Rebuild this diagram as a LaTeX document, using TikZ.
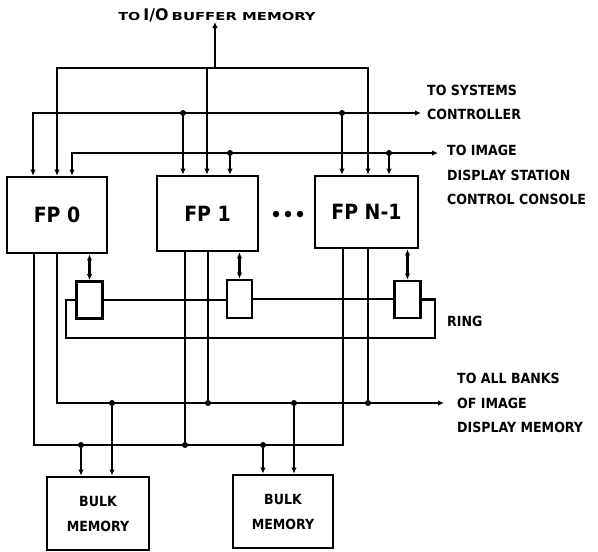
\documentclass[tikz,border=0pt]{standalone}
\usepackage{fontspec}
\setmainfont{DejaVu Sans Condensed}
\usetikzlibrary{arrows.meta}
\begin{document}
\begin{tikzpicture}[x=1pt,y=-1pt,
  wire/.style={line width=2.6pt, line join=miter},
  tipend/.style={-{Latex[length=6pt,width=5.5pt]}},
  tipboth/.style={{Latex[length=6pt,width=5.5pt]}-{Latex[length=6pt,width=5.5pt]}},
  fpbox/.style={draw, line width=2.8pt, inner sep=0pt, font=\bfseries\fontsize{21}{24}\selectfont},
  ringbox/.style={draw, line width=2.8pt, inner sep=0pt, minimum width=26pt, minimum height=37pt},
  bulkbox/.style={draw, line width=2.8pt, inner sep=0pt, align=center, font=\bfseries\fontsize{14}{25}\selectfont},
  lab/.style={anchor=west, align=left, inner sep=0pt, font=\bfseries\fontsize{14}{24.5}\selectfont},
  jdot/.style={circle, fill, inner sep=0pt, minimum size=6pt}
]
\useasboundingbox (0,0) rectangle (598,552);

% processor boxes
\node[fpbox, minimum width=100pt, minimum height=76pt] (fp0) at (57,215) {FP 0};
\node[fpbox, minimum width=101pt, minimum height=75pt] (fp1) at (207.5,213.5) {FP 1};
\node[fpbox, minimum width=103pt, minimum height=72pt] (fpN) at (366.5,212) {FP N-1};
\node[jdot, minimum size=6.5pt] (d1) at (276,214) {};
\node[jdot, minimum size=6.5pt] (d2) at (288,214) {};
\node[jdot, minimum size=6.5pt] (d3) at (300,214) {};

% ring boxes
\node[ringbox] (r1) at (89.5,300) {};
\node[ringbox, minimum width=25pt, minimum height=38pt] (r2) at (239.5,299) {};
\node[ringbox] (r3) at (407.5,299.5) {};

% bulk memories
\node[bulkbox, minimum width=102pt, minimum height=73pt] (b1) at (98,513.5) {BULK\\MEMORY};
\node[bulkbox, minimum width=100pt, minimum height=73pt] (b2) at (283,511.5) {BULK\\MEMORY};

% labels
\node[anchor=south, inner sep=0pt, font=\bfseries] (title) at (217,22)
  {\scalebox{1.45}[1]{\fontsize{11}{12}\selectfont TO} \scalebox{1.1}[1]{\fontsize{16}{18}\selectfont I/O} \scalebox{1.5}[1]{\fontsize{11}{12}\selectfont BUFFER MEMORY}};
\node[lab] (sys) at (427,102.5) {TO SYSTEMS\\CONTROLLER};
\node[lab] (img) at (447,175) {TO IMAGE\\DISPLAY STATION\\CONTROL CONSOLE};
\node[lab] (ring) at (447,321) {RING};
\node[lab] (all) at (457,403) {TO ALL BANKS\\OF IMAGE\\DISPLAY MEMORY};

% bus coordinates
\coordinate (io)   at (215,68);
\coordinate (ioL)  at (57,68);
\coordinate (ioR)  at (368,68);
\coordinate (io1)  at (207,68);
\coordinate (sysL) at (33,113);
\coordinate (sysR) at (421,113);
\coordinate (imL)  at (72,153);
\coordinate (imR)  at (438,153);
\coordinate (b2L)  at (34,445);
\coordinate (b2R)  at (343,445);
\coordinate (b1L)  at (57,403);
\coordinate (b1R)  at (444,403);

% junction dots
\node[jdot] (s1) at (183,113) {};
\node[jdot] (s2) at (342,113) {};
\node[jdot] (i1) at (230,153) {};
\node[jdot] (i2) at (389,153) {};
\node[jdot] (m1) at (208,403) {};
\node[jdot] (m2) at (368,403) {};
\node[jdot] (m3) at (112,403) {};
\node[jdot] (m4) at (294,403) {};
\node[jdot] (n1) at (185,445) {};
\node[jdot] (n2) at (81,445) {};
\node[jdot] (n3) at (263,445) {};

% top wiring
\draw[wire, tipend] (io) -- (io |- title.south);
\draw[wire, tipboth] (ioL |- fp0.north) -- (ioL) -- (ioR) -- (ioR |- fpN.north);
\draw[wire, tipend] (io1) -- (io1 |- fp1.north);
\draw[wire, tipboth] (sysL |- fp0.north) -- (sysL) -- (sysR);
\draw[wire, tipend] (s1) -- (s1 |- fp1.north);
\draw[wire, tipend] (s2) -- (s2 |- fpN.north);
\draw[wire, tipboth] (imL |- fp0.north) -- (imL) -- (imR);
\draw[wire, tipend] (i1) -- (i1 |- fp1.north);
\draw[wire, tipend] (i2) -- (i2 |- fpN.north);

% ring wiring
\draw[wire, tipboth] (r1.north |- fp0.south) -- (r1.north);
\draw[wire, tipboth] (r2.north |- fp1.south) -- (r2.north);
\draw[wire, tipboth] (r3.north |- fpN.south) -- (r3.north);
\draw[wire] (r1.east) -- (r1.east -| r2.west);
\draw[wire] (r2.east) -- (r2.east -| r3.west);
\draw[wire] (r3.east) -- ++(13,0) |- (66,338) |- (r1.west);

% bottom wiring
\draw[wire] (b2L |- fp0.south) -- (b2L) -- (b2R) -- (b2R |- fpN.south);
\draw[wire] (n1 |- fp1.south) -- (n1);
\draw[wire, tipend] (b1L |- fp0.south) -- (b1L) -- (b1R);
\draw[wire] (m1 |- fp1.south) -- (m1);
\draw[wire] (m2 |- fpN.south) -- (m2);
\draw[wire, tipend] (m3) -- (m3 |- b1.north);
\draw[wire, tipend] (n2) -- (n2 |- b1.north);
\draw[wire, tipend] (m4) -- (m4 |- b2.north);
\draw[wire, tipend] (n3) -- (n3 |- b2.north);
\end{tikzpicture}
\end{document}
